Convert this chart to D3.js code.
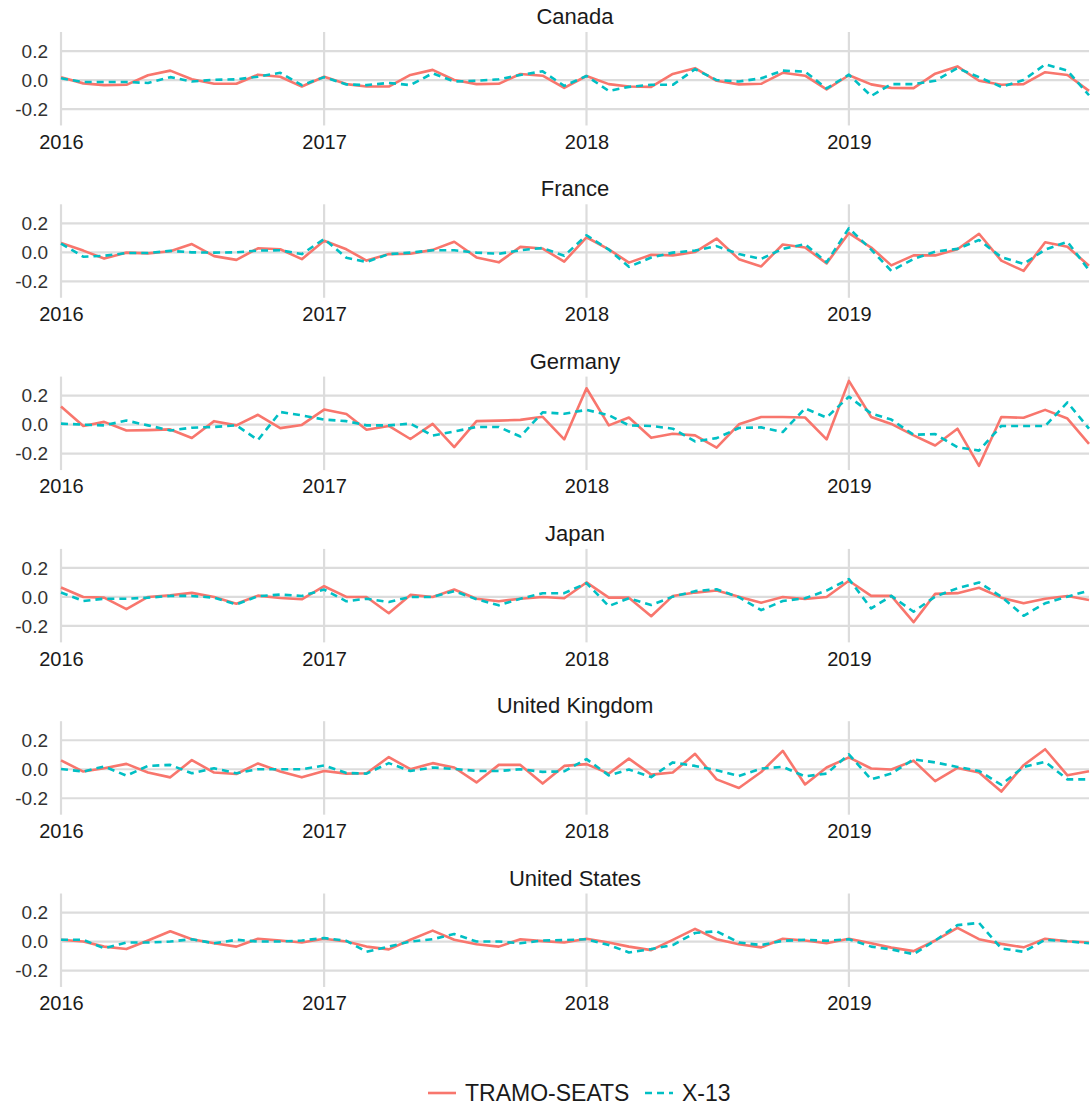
<!DOCTYPE html>
<html>
<head>
<meta charset="utf-8">
<script src="https://cdn.jsdelivr.net/npm/d3@7"></script>
<style>
  body { margin: 0; background: #fff; }
  svg text { font-family: "Liberation Sans", Arial, sans-serif; }
  .strip { font-size: 22px; fill: #1a1a1a; }
  .axis text { font-size: 19px; fill: #333; }
  .xaxis text { font-size: 20px; fill: #1a1a1a; }
  .legend text { font-size: 23px; fill: #1a1a1a; }
</style>
</head>
<body>
<svg id="chart" width="1091" height="1105"></svg>
<script>
// monthly values, Jan 2016 .. Dec 2019
const countries = ["Canada", "France", "Germany", "Japan", "United Kingdom", "United States"];
const methods = ["TRAMO-SEATS", "X-13"];
const colors = ["#F8766D", "#00BFC4"];

const canadaTramo = [0.02,-0.023,-0.035,-0.033,0.033,0.065,0.005,-0.026,-0.026,0.037,0.023,-0.045,
  0.023,-0.028,-0.045,-0.045,0.035,0.07,0,-0.028,-0.026,0.042,0.03,-0.054,
  0.028,-0.028,-0.045,-0.047,0.042,0.082,-0.005,-0.03,-0.026,0.05,0.03,-0.065,
  0.033,-0.03,-0.054,-0.056,0.044,0.094,-0.005,-0.033,-0.028,0.054,0.035,-0.075];
const canadaX13 = [0.012,-0.014,-0.014,-0.014,-0.02,0.02,-0.01,0.002,0.005,0.023,0.05,-0.035,
  0.02,-0.03,-0.035,-0.02,-0.035,0.047,-0.01,-0.005,0.005,0.035,0.06,-0.04,
  0.028,-0.075,-0.047,-0.033,-0.033,0.075,0,-0.01,0.012,0.065,0.058,-0.058,
  0.037,-0.11,-0.028,-0.028,-0.005,0.082,0.02,-0.047,0,0.108,0.065,-0.105];

const franceTramo = [0.064,0.012,-0.043,-0.002,-0.007,0.007,0.057,-0.026,-0.052,0.028,0.021,-0.047,
  0.08,0.021,-0.057,-0.012,-0.01,0.017,0.073,-0.035,-0.069,0.038,0.026,-0.064,
  0.104,0.021,-0.071,-0.017,-0.021,0.002,0.095,-0.047,-0.097,0.054,0.033,-0.076,
  0.133,0.033,-0.09,-0.021,-0.021,0.021,0.128,-0.057,-0.128,0.069,0.038,-0.092];
const franceX13 = [0.06,-0.03,-0.024,-0.005,-0.005,0.01,0,-0.002,0,0.012,0.014,-0.012,
  0.092,-0.038,-0.066,-0.012,-0.002,0.014,0.014,-0.002,-0.01,0.014,0.03,-0.024,
  0.118,0.019,-0.1,-0.036,-0.002,0.012,0.043,-0.012,-0.045,0.024,0.057,-0.069,
  0.166,0.019,-0.128,-0.045,0.005,0.024,0.085,-0.033,-0.08,0.019,0.073,-0.123];

const germanyTramo = [0.125,-0.009,0.019,-0.04,-0.038,-0.033,-0.092,0.024,-0.005,0.068,-0.024,-0.002,
  0.104,0.073,-0.035,-0.009,-0.099,0.005,-0.155,0.024,0.028,0.033,0.054,-0.102,
  0.251,-0.005,0.049,-0.091,-0.063,-0.074,-0.158,0.002,0.053,0.053,0.049,-0.102,
  0.302,0.053,0.005,-0.074,-0.144,-0.028,-0.284,0.053,0.047,0.102,0.042,-0.133];
const germanyX13 = [0.007,0,-0.005,0.028,-0.005,-0.04,-0.021,-0.016,-0.005,-0.106,0.087,0.064,
  0.035,0.024,-0.005,-0.005,0.007,-0.075,-0.047,-0.016,-0.016,-0.082,0.085,0.075,
  0.102,0.065,-0.005,-0.009,-0.028,-0.116,-0.093,-0.023,-0.019,-0.051,0.112,0.049,
  0.193,0.077,0.035,-0.07,-0.065,-0.156,-0.179,-0.009,-0.009,-0.009,0.153,-0.028];

const japanTramo = [0.065,0,-0.005,-0.084,0,0.012,0.028,0,-0.047,0.009,-0.007,-0.016,
  0.074,0,0,-0.112,0.014,0,0.051,-0.012,-0.03,-0.012,0,-0.009,
  0.1,-0.005,-0.005,-0.133,0.007,0.03,0.044,0.002,-0.04,0,-0.014,0,
  0.112,0.007,0.007,-0.174,0.021,0.026,0.063,-0.005,-0.044,-0.012,0.007,-0.021];
const japanX13 = [0.03,-0.028,-0.012,-0.012,-0.005,0.007,0.007,-0.005,-0.051,0.005,0.016,0.007,
  0.051,-0.03,-0.012,-0.035,0,0,0.04,-0.016,-0.058,-0.012,0.025,0.026,
  0.095,-0.063,-0.009,-0.056,0.002,0.04,0.053,-0.002,-0.091,-0.028,-0.009,0.044,
  0.123,-0.079,0.007,-0.102,0.002,0.06,0.1,0.002,-0.13,-0.044,0.002,0.044];

const ukTramo = [0.061,-0.016,0.007,0.037,-0.023,-0.056,0.063,-0.023,-0.033,0.04,-0.016,-0.056,
  -0.012,-0.03,-0.028,0.084,0,0.042,0.012,-0.091,0.03,0.03,-0.099,0.023,
  0.035,-0.03,0.073,-0.037,-0.023,0.106,-0.07,-0.129,-0.019,0.127,-0.105,0.012,
  0.082,0.005,-0.002,0.059,-0.082,0.009,-0.023,-0.154,0.028,0.138,-0.042,-0.014];
const ukX13 = [0.002,-0.016,0.019,-0.044,0.023,0.03,-0.028,0.007,-0.028,0,0,0,
  0.026,-0.026,-0.03,0.042,-0.012,0.012,0.002,-0.012,-0.012,0,-0.018,-0.014,
  0.07,-0.042,-0.002,-0.054,0.047,0.023,-0.007,-0.047,0.005,0.016,-0.049,-0.03,
  0.103,-0.07,-0.03,0.068,0.047,0.016,-0.012,-0.107,0.016,0.051,-0.07,-0.07];

const usTramo = [0.012,0,-0.035,-0.052,0.007,0.071,0.016,-0.012,-0.035,0.019,0.007,-0.007,
  0.019,0,-0.035,-0.054,0.012,0.075,0.012,-0.019,-0.035,0.016,0.003,-0.007,
  0.019,-0.007,-0.035,-0.059,0.012,0.087,0.016,-0.019,-0.04,0.019,0.007,-0.012,
  0.019,-0.012,-0.042,-0.066,0.007,0.094,0.016,-0.016,-0.04,0.019,0.002,-0.007];
const usX13 = [0.012,0.012,-0.047,-0.007,-0.007,0,0.016,-0.012,0.012,0,0,0.007,
  0.024,0.005,-0.071,-0.035,0,0.016,0.052,0,0,-0.012,0.007,0.01,
  0.016,-0.024,-0.075,-0.052,-0.024,0.059,0.071,-0.007,-0.024,0.005,0.012,0.005,
  0.016,-0.035,-0.054,-0.087,0.007,0.113,0.129,-0.047,-0.071,0.012,0.002,-0.012];

const yTicks = [-0.2, 0, 0.2];
const yearTicks = ["2016", "2017", "2018", "2019"];

const series = [
  [canadaTramo, canadaX13], [franceTramo, franceX13], [germanyTramo, germanyX13],
  [japanTramo, japanX13], [ukTramo, ukX13], [usTramo, usX13]
];

const months = d3.timeMonth.range(new Date(2016, 0, 1), new Date(2020, 0, 1));
const parseYear = d3.timeParse("%Y");

const svg = d3.select("#chart");
svg.append("rect").attr("width", 1091).attr("height", 1105).attr("fill", "#fff");

const left = 61, right = 1089;
const panelTop0 = 32, panelStep = 172.3;

let xScale = d3.scaleTime().domain([months[0], months[months.length - 1]]).range([left, right]);

// shared y scale, data range padded by 5% like ggplot
let all = series.flat(2);
let ext = d3.extent(all);
let pad = (ext[1] - ext[0]) * 0.05;
let panelH = (ext[1] - ext[0] + 2 * pad) * 145;

const line = d3.line().x((d, i) => xScale(months[i]));

countries.forEach((country, p) => {
  let top = panelTop0 + p * panelStep;
  let yScale = d3.scaleLinear().domain([ext[0] - pad, ext[1] + pad]).range([top + panelH, top]);
  let g = svg.append("g");

  g.append("text").attr("class", "strip")
    .attr("x", (left + right) / 2).attr("y", top - 8)
    .attr("text-anchor", "middle").text(country);

  // grid
  g.selectAll(".hgrid").data(yTicks).enter().append("line")
    .attr("x1", left).attr("x2", right)
    .attr("y1", d => yScale(d)).attr("y2", d => yScale(d))
    .attr("stroke", "#dcdcdc").attr("stroke-width", 2.2);
  g.selectAll(".vgrid").data(yearTicks).enter().append("line")
    .attr("x1", d => xScale(parseYear(d))).attr("x2", d => xScale(parseYear(d)))
    .attr("y1", top).attr("y2", top + panelH)
    .attr("stroke", "#dcdcdc").attr("stroke-width", 2.2);

  let y_axis = d3.axisLeft(yScale).tickValues(yTicks).tickFormat(d3.format(".1f")).tickSize(0).tickPadding(8);
  let ya = g.append("g").attr("class", "axis").attr("transform", `translate(${left - 5},0)`).call(y_axis);
  ya.select(".domain").remove();
  ya.selectAll("text").text(d => d3.format(".1f")(d).replace("−", "-"));

  let x_axis = d3.axisBottom(xScale).tickValues(yearTicks.map(parseYear)).tickFormat(d3.timeFormat("%Y")).tickSize(0).tickPadding(9);
  let xa = g.append("g").attr("class", "xaxis").attr("transform", `translate(0,${top + panelH})`).call(x_axis);
  xa.select(".domain").remove();

  line.y(d => yScale(d));
  series[p].forEach((vals, s) => {
    g.append("path").datum(vals)
      .attr("d", line)
      .attr("fill", "none")
      .attr("stroke", colors[s])
      .attr("stroke-width", 2.6)
      .attr("stroke-linejoin", "round")
      .attr("stroke-dasharray", s === 1 ? "7,5" : null);
  });
});

// legend
let lg = svg.append("g").attr("class", "legend").attr("transform", "translate(0,1093)");
let legendX = [428, 645];
methods.forEach((m, s) => {
  lg.append("line").attr("x1", legendX[s]).attr("x2", legendX[s] + 28)
    .attr("stroke", colors[s]).attr("stroke-width", 2.6)
    .attr("stroke-dasharray", s === 1 ? "7,5" : null);
  lg.append("text").attr("x", legendX[s] + 37).attr("y", 0).attr("dy", "0.35em").text(m);
});
</script>
</body>
</html>
